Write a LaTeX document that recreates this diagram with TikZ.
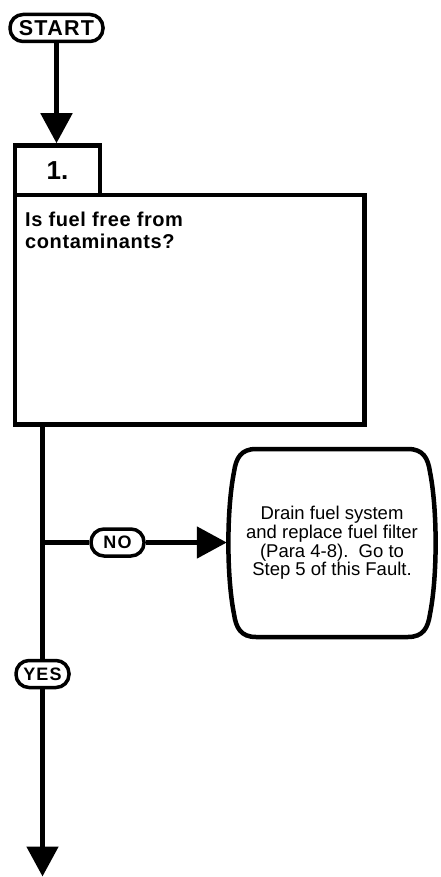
\documentclass[tikz,border=0pt]{standalone}
\usepackage{fontspec}
\setmainfont{Liberation Sans}
\newfontfamily\tagfont[LetterSpace=6]{Liberation Sans}
\newfontfamily\qfont[LetterSpace=3]{Liberation Sans}
\usetikzlibrary{arrows.meta}

\tikzset{
  pill/.style={draw, line width=3.5pt, rounded corners=13pt, inner sep=0pt,
    font=\tagfont\bfseries\fontsize{18}{18}\selectfont},
  boxline/.style={draw, line width=4.5pt, inner sep=0pt},
  flow/.style={line width=5pt},
  flowarrow/.style={line width=5pt, -{Triangle[length=30pt,width=31pt]}},
}

\begin{document}
\begin{tikzpicture}[x=1pt,y=-1pt]
\useasboundingbox (0,0) rectangle (441,877);

% start terminal
\node[pill, minimum width=93pt, minimum height=27pt,
  font=\tagfont\bfseries\fontsize{21.5}{21.5}\selectfont] (start) at (56.5,28) {START};

% step 1: number tab and question box
\node[boxline, minimum width=85pt, minimum height=49.5pt] (tab) at (57.5,170.25)
  {\bfseries\fontsize{26}{26}\selectfont 1.};
\node[boxline, minimum width=349.5pt, minimum height=229.5pt] (box) at (189.75,309.75) {};
\node[anchor=north west, inner sep=0pt, align=left,
  font=\qfont\bfseries\fontsize{20}{21.5}\selectfont] (question) at (25,212)
  {Is fuel free from\\contaminants?};

% answer labels
\node[pill, minimum width=53pt, minimum height=27pt] (no) at (117.5,542.5) {NO};
\node[pill, minimum width=53pt, minimum height=27pt] (yes) at (42.5,674) {YES};

% corrective action
\node[inner sep=0pt, minimum width=210pt, minimum height=188pt, align=center,
  font=\fontsize{18.5}{18.7}\selectfont] (drain) at (332,543)
  {Drain fuel system\\and replace fuel filter\\(Para 4-8).\ \ Go to\\Step 5 of this Fault.};
\draw[line width=4.5pt]
  (256,449) -- (408,449)
  .. controls (423,449) and (428,458) .. (430,472)
  .. controls (437.5,510) and (437.5,576) .. (430,614)
  .. controls (428,628) and (423,637) .. (408,637)
  -- (256,637)
  .. controls (241,637) and (236,628) .. (234,614)
  .. controls (226.5,576) and (226.5,510) .. (234,472)
  .. controls (236,458) and (241,449) .. (256,449) -- cycle;

% connectors
\coordinate (split) at (42.5,542.5);
\coordinate (exit) at (42.5,876.5);
\draw[flowarrow] (start.south) -- (start.south |- tab.north);
\draw[flow] (split |- box.south) -- (yes.north);
\draw[flow] (split) -- (no.west);
\draw[flowarrow] (no.east) -- (drain.west |- no);
\draw[flowarrow] (yes.south) -- (exit);
\end{tikzpicture}
\end{document}
